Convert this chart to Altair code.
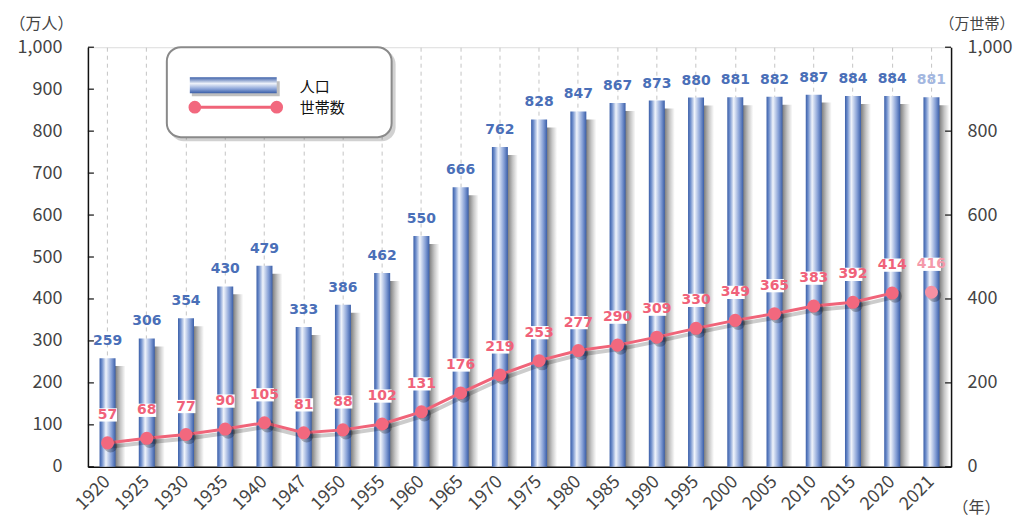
import altair as alt
import pandas as pd

years = ["1920", "1925", "1930", "1935", "1940", "1947", "1950", "1955", "1960", "1965", "1970",
         "1975", "1980", "1985", "1990", "1995", "2000", "2005", "2010", "2015", "2020", "2021"]
population = [259, 306, 354, 430, 479, 333, 386, 462, 550, 666, 762,
              828, 847, 867, 873, 880, 881, 882, 887, 884, 884, 881]
households = [57, 68, 77, 90, 105, 81, 88, 102, 131, 176, 219,
              253, 277, 290, 309, 330, 349, 365, 383, 392, 414, 416]
left_ticks = list(range(0, 1001, 100))
right_ticks = list(range(0, 1001, 200))

df = pd.DataFrame({"year": years, "pop": population, "hh": households})
one = pd.DataFrame({"k": [0]})

FONT = "Noto Sans CJK JP"
LABEL_FONT = "DejaVu Sans"
W, H = 864, 420
IS_LAST = "datum.year == '2021'"

xenc = alt.X("year:N", sort=years, title="（年）",
             scale=alt.Scale(paddingInner=0, paddingOuter=0),
             axis=alt.Axis(labelAngle=-45, labelAlign="right", labelBaseline="middle",
                           labelPadding=12, ticks=False, labelFontSize=18, labelFont=FONT,
                           labelColor="#444", domainColor="#111", domainWidth=1.5,
                           grid=True, gridDash=[4, 4], gridColor="#c4c4c4", bandPosition=0.5,
                           titleAngle=0, titleX=865, titleY=41, titleAlign="left",
                           titleBaseline="middle", titleFont=FONT, titleFontSize=16,
                           titleFontWeight="normal", titleColor="#444"))

yscale = alt.Scale(domain=[0, 1000], nice=False, zero=True)

bar_grad = alt.Gradient(gradient="linear", x1=0, x2=1, y1=0, y2=0, stops=[
    alt.GradientStop(offset=0, color="#3a5ea8"),
    alt.GradientStop(offset=0.15, color="#6d8dcb"),
    alt.GradientStop(offset=0.4, color="#f0f4fb"),
    alt.GradientStop(offset=0.75, color="#86a0d6"),
    alt.GradientStop(offset=1, color="#3a5ea8")])
shadow_grad = alt.Gradient(gradient="linear", x1=0, x2=1, y1=0, y2=0, stops=[
    alt.GradientStop(offset=0, color="rgba(0,0,0,0.6)"),
    alt.GradientStop(offset=0.5, color="rgba(0,0,0,0.5)"),
    alt.GradientStop(offset=0.75, color="rgba(0,0,0,0.22)"),
    alt.GradientStop(offset=1, color="rgba(0,0,0,0)")])

left_axis = alt.Axis(values=left_ticks, format=",d", grid=False, ticks=False,
                     domainColor="#111", domainWidth=1.5, labelPadding=26,
                     labelFontSize=18, labelFont=FONT, labelColor="#444",
                     title="（万人）", titleAngle=0, titleX=-79, titleY=-24,
                     titleAlign="left", titleBaseline="middle", titleFont=FONT,
                     titleFontSize=16, titleFontWeight="normal", titleColor="#444")
yleft = alt.Y("pop:Q", scale=yscale, axis=left_axis)

base = alt.Chart(df)

bar_shadow = base.mark_bar(size=20, color=shadow_grad, clip=True, xOffset=8, yOffset=8).encode(
    x=xenc, y=yleft)
bars = base.mark_bar(size=16, color=bar_grad).encode(x=xenc, y=yleft)
bar_labels = base.mark_text(font=LABEL_FONT, fontSize=14, fontWeight="bold",
                            baseline="alphabetic", dy=-13).encode(
    x=xenc, y=yleft, text=alt.Text("pop:Q"),
    color=alt.condition(IS_LAST, alt.value("#a3b7e0"), alt.value("#4a6fb8")))
lt = alt.Chart(pd.DataFrame({"pop": left_ticks})).mark_rule(color="#111", strokeWidth=1.2).encode(
    y=yleft, x=alt.value(0), x2=alt.value(6))

left_group = alt.layer(bar_shadow, bars, bar_labels, lt)

right_axis = alt.Axis(orient="right", values=right_ticks, format=",d", grid=False, ticks=False,
                      domainColor="#111", domainWidth=1.5, labelPadding=16,
                      labelFontSize=18, labelFont=FONT, labelColor="#444",
                      title="（万世帯）", titleAngle=0, titleX=-12, titleY=-24,
                      titleAlign="left", titleBaseline="middle", titleFont=FONT,
                      titleFontSize=15, titleFontWeight="normal", titleColor="#444")
yr = alt.Y("hh:Q", scale=yscale, axis=right_axis)

hh_line_data = base.transform_filter("datum.year != '2021'")
line_shadow = hh_line_data.mark_line(color="rgba(0,0,0,0.2)", strokeWidth=4,
                                     xOffset=2, yOffset=4).encode(x=xenc, y=yr)
line = hh_line_data.mark_line(color="#f06479", strokeWidth=3).encode(x=xenc, y=yr)
pt_shadow = base.mark_point(filled=True, size=180, color="rgba(0,0,0,0.35)",
                            xOffset=3, yOffset=3).encode(x=xenc, y=yr)
points = base.mark_point(filled=True, size=170, opacity=1).encode(
    x=xenc, y=yr,
    color=alt.condition(IS_LAST, alt.value("#f591a3"), alt.value("#f2687e")))
boxes = base.mark_point(shape="M-1,-0.7L1,-0.7L1,0.7L-1,0.7Z", filled=True,
                        color="white", size=360, opacity=1, yOffset=-28).encode(x=xenc, y=yr)
hh_labels = base.mark_text(font=LABEL_FONT, fontSize=14, fontWeight="bold",
                           baseline="middle", dy=-28).encode(
    x=xenc, y=yr, text=alt.Text("hh:Q"),
    color=alt.condition(IS_LAST, alt.value("#f599aa"), alt.value("#f0627a")))
rt = alt.Chart(pd.DataFrame({"hh": right_ticks})).mark_rule(color="#111", strokeWidth=1.2).encode(
    y=yr, x=alt.value(W - 6), x2=alt.value(W))

right_group = alt.layer(line_shadow, line, pt_shadow, points, boxes, hh_labels, rt)

# legend
lg = alt.Chart(one)
leg_shadow = lg.mark_rect(color="rgba(0,0,0,0.18)", cornerRadius=14).encode(
    x=alt.value(82), x2=alt.value(308), y=alt.value(3), y2=alt.value(94))
leg_box = lg.mark_rect(fill="white", stroke="#8a8a8a", strokeWidth=2, cornerRadius=14).encode(
    x=alt.value(79), x2=alt.value(304), y=alt.value(0), y2=alt.value(90))
sym_grad = alt.Gradient(gradient="linear", x1=0, x2=0, y1=0, y2=1, stops=[
    alt.GradientStop(offset=0, color="#3a5ea8"),
    alt.GradientStop(offset=0.4, color="#eef2fa"),
    alt.GradientStop(offset=0.75, color="#86a0d6"),
    alt.GradientStop(offset=1, color="#3a5ea8")])
leg_bar_sh = lg.mark_rect(color="rgba(0,0,0,0.25)").encode(
    x=alt.value(104), x2=alt.value(192), y=alt.value(34), y2=alt.value(49))
leg_bar = lg.mark_rect(color=sym_grad).encode(
    x=alt.value(102), x2=alt.value(189), y=alt.value(30), y2=alt.value(46))
leg_line = lg.mark_rule(color="#f06479", strokeWidth=3).encode(
    x=alt.value(107), x2=alt.value(189), y=alt.value(60))
leg_p1 = lg.mark_point(filled=True, size=160, color="#f2687e", opacity=1).encode(
    x=alt.value(107), y=alt.value(60))
leg_p2 = lg.mark_point(filled=True, size=160, color="#f2687e", opacity=1).encode(
    x=alt.value(189), y=alt.value(60))
leg_t1 = lg.mark_text(text="人口", font=FONT, fontSize=15, align="left", baseline="middle",
                      color="#111").encode(x=alt.value(212), y=alt.value(40))
leg_t2 = lg.mark_text(text="世帯数", font=FONT, fontSize=15, align="left", baseline="middle",
                      color="#111").encode(x=alt.value(212), y=alt.value(61))

chart = alt.layer(
    left_group, right_group,
    leg_shadow, leg_box, leg_bar_sh, leg_bar, leg_line, leg_p1, leg_p2, leg_t1, leg_t2
).resolve_scale(y="independent").properties(
    width=W, height=H,
    padding={"left": 80, "top": 39, "right": 64, "bottom": 62},
    autosize=alt.AutoSizeParams(type="none"),
).configure_view(stroke=None).configure(background="white")

chart.save("out.html", embed_options={"renderer": "svg", "actions": False})
